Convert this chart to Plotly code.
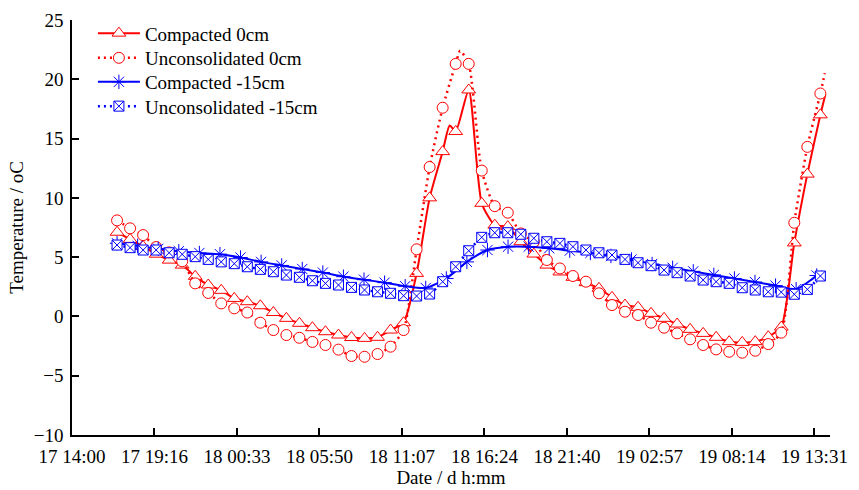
import plotly.graph_objects as go

# ---------------- data ----------------
# reading times (day hh:mm), 50-min sampling, used by three series
times_a = ["17 16:53", "17 17:43", "17 18:33", "17 19:23", "17 20:13", "17 21:03", "17 21:53",
           "17 22:43", "17 23:33", "18 00:23", "18 01:13", "18 02:03", "18 02:53", "18 03:43",
           "18 04:33", "18 05:23", "18 06:13", "18 07:03", "18 07:53", "18 08:43", "18 09:33",
           "18 10:23", "18 11:13", "18 12:03", "18 12:53", "18 13:43", "18 14:33", "18 15:23",
           "18 16:13", "18 17:03", "18 17:53", "18 18:43", "18 19:33", "18 20:23", "18 21:13",
           "18 22:03", "18 22:53", "18 23:43", "19 00:33", "19 01:23", "19 02:13", "19 03:03",
           "19 03:53", "19 04:43", "19 05:33", "19 06:23", "19 07:13", "19 08:03", "19 08:53",
           "19 09:43", "19 10:33", "19 11:23", "19 12:13", "19 13:03", "19 13:53"]

# reading times of the "Compacted -15cm" markers
times_b = ["17 16:53", "17 18:12", "17 19:31", "17 20:50", "17 22:09", "17 23:28", "18 00:47",
           "18 02:06", "18 03:25", "18 04:44", "18 06:03", "18 07:22", "18 08:41", "18 10:00",
           "18 11:19", "18 12:38", "18 13:57", "18 15:16", "18 16:35", "18 17:54", "18 19:13",
           "18 20:32", "18 21:51", "18 23:10", "19 00:29", "19 01:48", "19 03:07", "19 04:26",
           "19 05:45", "19 07:04", "19 08:23", "19 09:42", "19 11:01", "19 12:20", "19 13:39"]

compacted_0 = [7.1, 6.5, 5.9, 5.25, 4.75, 4.33, 3.38, 2.65, 2.2, 1.52, 1.24, 0.9, 0.33, -0.16,
               -0.58, -0.95, -1.29, -1.57, -1.78, -1.85, -1.76, -1.15, -0.53, 3.63, 10.0, 13.9,
               15.6, 19.1, 9.54, 7.7, 7.57, 6.3, 5.26, 4.33, 3.75, 3.3, 2.85, 2.37, 1.61, 0.96,
               0.77, 0.26, -0.16, -0.64, -1.09, -1.43, -1.76, -2.13, -2.19, -2.13, -1.71, -0.9,
               6.2, 12.0, 17.0]

unconsolidated_0 = [8.1, 7.43, 6.86, 5.85, 5.4, 4.65, 2.79, 1.98, 1.1, 0.68, 0.33, -0.53, -1.15,
                    -1.57, -1.8, -2.15, -2.41, -2.8, -3.34, -3.4, -3.17, -2.55, -1.15, 5.66, 12.6,
                    17.6, 21.3, 21.3, 12.3, 9.3, 8.75, 7.0, 6.3, 4.76, 4.05, 3.41, 2.93, 1.95, 0.96,
                    0.4, 0.12, -0.53, -0.95, -1.43, -1.93, -2.41, -2.78, -2.98, -3.06, -2.89, -2.33,
                    -1.37, 7.9, 14.3, 18.8]

unconsolidated_15 = [6.02, 5.8, 5.6, 5.6, 5.37, 5.24, 5.04, 4.81, 4.6, 4.45, 4.19, 3.97, 3.77,
                     3.49, 3.3, 3.01, 2.79, 2.65, 2.45, 2.23, 2.08, 1.95, 1.75, 1.72, 1.89, 2.93,
                     4.19, 5.54, 6.67, 7.06, 7.06, 6.93, 6.59, 6.3, 6.16, 5.88, 5.6, 5.37, 5.18,
                     4.81, 4.53, 4.28, 3.91, 3.69, 3.41, 3.07, 2.93, 2.79, 2.42, 2.23, 2.08, 2.05,
                     1.87, 2.28, 3.41]

compacted_15 = [6.17, 5.95, 5.7, 5.5, 5.35, 5.25, 4.97, 4.6, 4.3, 4.0, 3.7, 3.35, 3.1, 2.85,
                2.55, 2.4, 3.2, 4.6, 5.6, 5.88, 5.88, 5.75, 5.55, 5.35, 5.1, 4.8, 4.42, 4.1, 3.8,
                3.5, 3.2, 2.9, 2.6, 2.3, 3.45]

# line-only readings between markers (the curves pass through more points than are marked)
compacted_0_line_t = ["18 14:10", "19 14:12"]
compacted_0_line_v = [16.1, 18.7]
unconsolidated_0_line_t = ["18 14:50", "19 14:10"]
unconsolidated_0_line_v = [22.4, 20.5]

tick_times = ["17 14:00:00", "17 19:16:40", "18 00:33:20", "18 05:50:00", "18 11:06:40",
              "18 16:23:20", "18 21:40:00", "19 02:56:40", "19 08:13:20", "19 13:30:00"]
tick_labels = ["17 14:00", "17 19:16", "18 00:33", "18 05:50", "18 11:07",
               "18 16:24", "18 21:40", "19 02:57", "19 08:14", "19 13:31"]


def ts(label):
    d, hm = label.split(" ")
    return f"2020-01-{d} {hm}"


def merged(t_main, v_main, t_extra, v_extra):
    pts = sorted([(ts(t), v) for t, v in zip(t_main, v_main)] +
                 [(ts(t), v) for t, v in zip(t_extra, v_extra)])
    return [p[0] for p in pts], [p[1] for p in pts]


RED = "#FF0000"
BLUE = "#0000FF"
FONT = "Liberation Serif"
FS = 19

fig = go.Figure()

series = [
    ("Compacted 0cm", times_a, compacted_0, compacted_0_line_t, compacted_0_line_v,
     RED, "solid", 2, "triangle-up", 12, "white"),
    ("Unconsolidated 0cm", times_a, unconsolidated_0, unconsolidated_0_line_t,
     unconsolidated_0_line_v, RED, "2px,4px", 2.5, "circle", 11, "white"),
    ("Compacted -15cm", times_b, compacted_15, [], [], BLUE, "solid", 2, "asterisk-open", 12,
     BLUE),
    ("Unconsolidated -15cm", times_a, unconsolidated_15, [], [], BLUE, "2px,4px", 2.5,
     "square-x", 10, "white"),
]

legend_rows = [0.968, 0.9085, 0.8507, 0.7921]
legend_names = ["legend", "legend2", "legend3", "legend4"]

for i, (name, tt, vv, te, ve, col, dash, lw, sym, msz, fill) in enumerate(series):
    lx, ly = merged(tt, vv, te, ve)
    mk = dict(symbol=sym, size=msz, color=fill, line=dict(color=col, width=1))
    fig.add_trace(go.Scatter(x=lx, y=ly, mode="lines", showlegend=False,
                             line=dict(color=col, width=lw, dash=dash, shape="spline",
                                       smoothing=0.6),
                             hoverinfo="skip"))
    fig.add_trace(go.Scatter(x=[ts(t) for t in tt], y=vv, mode="markers", showlegend=False,
                             marker=mk))
    fig.add_trace(go.Scatter(x=[None], y=[None], mode="lines+markers", name=name,
                             legend=legend_names[i],
                             line=dict(color=col, width=lw, dash=dash), marker=mk))

axis_common = dict(showgrid=False, zeroline=False, showline=True, linecolor="black",
                   linewidth=1.5, ticks="inside", ticklen=7, tickwidth=1.5,
                   tickcolor="black", mirror=False, automargin=False,
                   tickfont=dict(family=FONT, size=FS, color="black"))

legend_style = dict(x=0.0276, xanchor="left", yanchor="middle", bgcolor="rgba(0,0,0,0)",
                    borderwidth=0, itemwidth=42, font=dict(family=FONT, size=FS))

fig.update_layout(
    width=859, height=490,
    margin=dict(l=72, r=29, t=20, b=55),
    paper_bgcolor="white", plot_bgcolor="white",
    font=dict(family=FONT, size=FS, color="black"),
    xaxis=dict(type="date", range=[ts("17 14:00"), ts("19 14:30")],
               tickmode="array", tickvals=[ts(t) for t in tick_times], ticktext=tick_labels,
               title=dict(text="Date / d h:mm", font=dict(family=FONT, size=FS), standoff=5),
               ticklabelstandoff=3, **axis_common),
    yaxis=dict(range=[-10, 25], tickmode="linear", tick0=-10, dtick=5,
               title=dict(text="Temperature / oC", font=dict(family=FONT, size=FS), standoff=5),
               ticklabelstandoff=3, **axis_common),
    legend=dict(y=legend_rows[0], **legend_style),
    legend2=dict(y=legend_rows[1], **legend_style),
    legend3=dict(y=legend_rows[2], **legend_style),
    legend4=dict(y=legend_rows[3], **legend_style),
)

fig.write_html("out.html", config={"displayModeBar": False},
               post_script="document.body.style.margin='0';document.body.style.padding='0';")
